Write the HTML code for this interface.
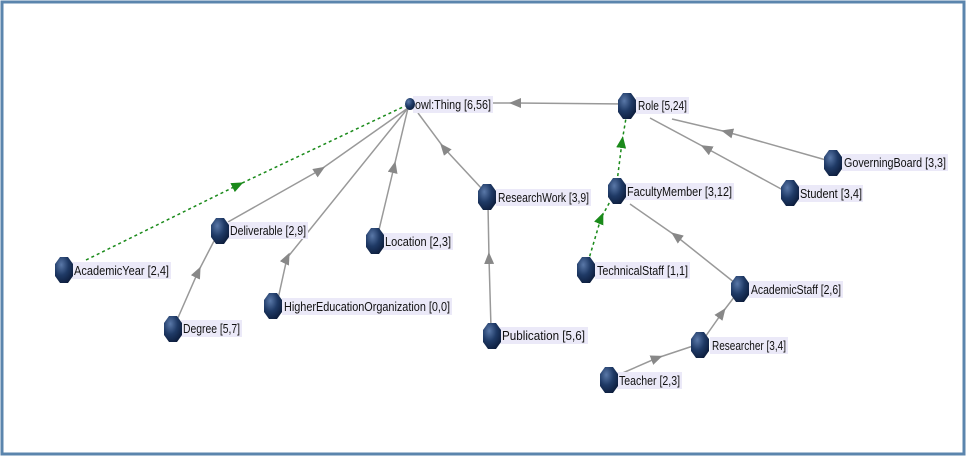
<!DOCTYPE html>
<html><head><meta charset="utf-8"><style>
html,body{margin:0;padding:0;background:#fff}
svg{display:block}
text{font-family:"Liberation Sans",sans-serif;font-size:13px;fill:#111}
</style></head><body>
<svg width="966" height="457" viewBox="0 0 966 457" xmlns="http://www.w3.org/2000/svg">
<defs>
<radialGradient id="g" cx="0.35" cy="0.3" r="0.8">
<stop offset="0" stop-color="#5a78a8"/><stop offset="0.5" stop-color="#1f3a66"/><stop offset="1" stop-color="#0b1a38"/>
</radialGradient>
<marker id="a" markerWidth="12" markerHeight="10" refX="6" refY="5" orient="auto" markerUnits="userSpaceOnUse">
<path d="M0,0 L12,5 L0,10 Z" fill="#888"/></marker>
<marker id="ag" markerWidth="12" markerHeight="10" refX="6" refY="5" orient="auto" markerUnits="userSpaceOnUse">
<path d="M0,0 L12,5 L0,10 Z" fill="#1a8a1a"/></marker>
</defs>
<rect x="2" y="2" width="962" height="452" fill="#fff" stroke="#5b85ad" stroke-width="3"/>

<g fill="none" stroke="#999" stroke-width="1.5">
<polyline points="627,104 515,103 412,103" marker-mid="url(#a)"/>
<polyline points="826,160 727,132 672,119" marker-mid="url(#a)"/>
<polyline points="783,190 706,148 650,118" marker-mid="url(#a)"/>
<polyline points="740,287 676,236 630,204" marker-mid="url(#a)"/>
<polyline points="703,340 722,313 735,296" marker-mid="url(#a)"/>
<polyline points="618,375 657,358 693,346" marker-mid="url(#a)"/>
<polyline points="483,190 444,148 418,113" marker-mid="url(#a)"/>
<polyline points="491,328 489,258 488,205" marker-mid="url(#a)"/>
<polyline points="378,234 394,167 408,108" marker-mid="url(#a)"/>
<polyline points="278,299 287,258 408,108" marker-mid="url(#a)"/>
<polyline points="228,222 320,170 408,108" marker-mid="url(#a)"/>
<polyline points="177,320 198,272 214,241" marker-mid="url(#a)"/>
</g>
<g fill="none" stroke="#1a8a1a" stroke-width="1.5" stroke-dasharray="3,3">
<polyline points="86,260 238,185 405,106" marker-mid="url(#ag)"/>
<polyline points="617,182 622,142 626,118" marker-mid="url(#ag)"/>
<polyline points="588,262 601,218 612,198" marker-mid="url(#ag)"/>
</g>

<g fill="#ebe9f8">
<rect x="413" y="96" width="80" height="17"/>
<rect x="636" y="97" width="53" height="17"/>
<rect x="842" y="154" width="106" height="17"/>
<rect x="798" y="185" width="65" height="17"/>
<rect x="496" y="189" width="95" height="17"/>
<rect x="625" y="183" width="109" height="17"/>
<rect x="228" y="222" width="80" height="17"/>
<rect x="383" y="233" width="70" height="17"/>
<rect x="72" y="262" width="99" height="17"/>
<rect x="595" y="262" width="95" height="17"/>
<rect x="749" y="281" width="94" height="17"/>
<rect x="282" y="298" width="170" height="17"/>
<rect x="181" y="320" width="61" height="17"/>
<rect x="500" y="327" width="88" height="17"/>
<rect x="710" y="337" width="78" height="17"/>
<rect x="617" y="372" width="65" height="17"/>
</g>

<g fill="url(#g)">
<ellipse cx="410" cy="104" rx="5" ry="6"/>
<path id="o" d="M-4,-13 L4,-13 L9,-6 L9,6 L4,13 L-4,13 L-9,6 L-9,-6 Z" transform="translate(627,106)"/>
<use href="#o" transform="translate(206,57)"/>
<use href="#o" transform="translate(163,87)"/>
<use href="#o" transform="translate(-140,91)"/>
<use href="#o" transform="translate(-10,85)"/>
<use href="#o" transform="translate(-407,125)"/>
<use href="#o" transform="translate(-252,135)"/>
<use href="#o" transform="translate(-563,164)"/>
<use href="#o" transform="translate(-41,164)"/>
<use href="#o" transform="translate(113,183)"/>
<use href="#o" transform="translate(-354,200)"/>
<use href="#o" transform="translate(-454,223)"/>
<use href="#o" transform="translate(-135,230)"/>
<use href="#o" transform="translate(73,239)"/>
<use href="#o" transform="translate(-18,274)"/>
</g>

<g>
<text x="415" y="109" textLength="76" lengthAdjust="spacingAndGlyphs">owl:Thing [6,56]</text>
<text x="638" y="110" textLength="49" lengthAdjust="spacingAndGlyphs">Role [5,24]</text>
<text x="844" y="167" textLength="102" lengthAdjust="spacingAndGlyphs">GoverningBoard [3,3]</text>
<text x="800" y="198" textLength="62" lengthAdjust="spacingAndGlyphs">Student [3,4]</text>
<text x="498" y="202" textLength="91" lengthAdjust="spacingAndGlyphs">ResearchWork [3,9]</text>
<text x="627" y="196" textLength="105" lengthAdjust="spacingAndGlyphs">FacultyMember [3,12]</text>
<text x="230" y="235" textLength="76" lengthAdjust="spacingAndGlyphs">Deliverable [2,9]</text>
<text x="385" y="246" textLength="66" lengthAdjust="spacingAndGlyphs">Location [2,3]</text>
<text x="74" y="275" textLength="95" lengthAdjust="spacingAndGlyphs">AcademicYear [2,4]</text>
<text x="597" y="275" textLength="91" lengthAdjust="spacingAndGlyphs">TechnicalStaff [1,1]</text>
<text x="751" y="294" textLength="90" lengthAdjust="spacingAndGlyphs">AcademicStaff [2,6]</text>
<text x="284" y="311" textLength="166" lengthAdjust="spacingAndGlyphs">HigherEducationOrganization [0,0]</text>
<text x="183" y="333" textLength="57" lengthAdjust="spacingAndGlyphs">Degree [5,7]</text>
<text x="502" y="340" textLength="83" lengthAdjust="spacingAndGlyphs">Publication [5,6]</text>
<text x="712" y="350" textLength="74" lengthAdjust="spacingAndGlyphs">Researcher [3,4]</text>
<text x="619" y="385" textLength="61" lengthAdjust="spacingAndGlyphs">Teacher [2,3]</text>
</g>
</svg>
</body></html>
